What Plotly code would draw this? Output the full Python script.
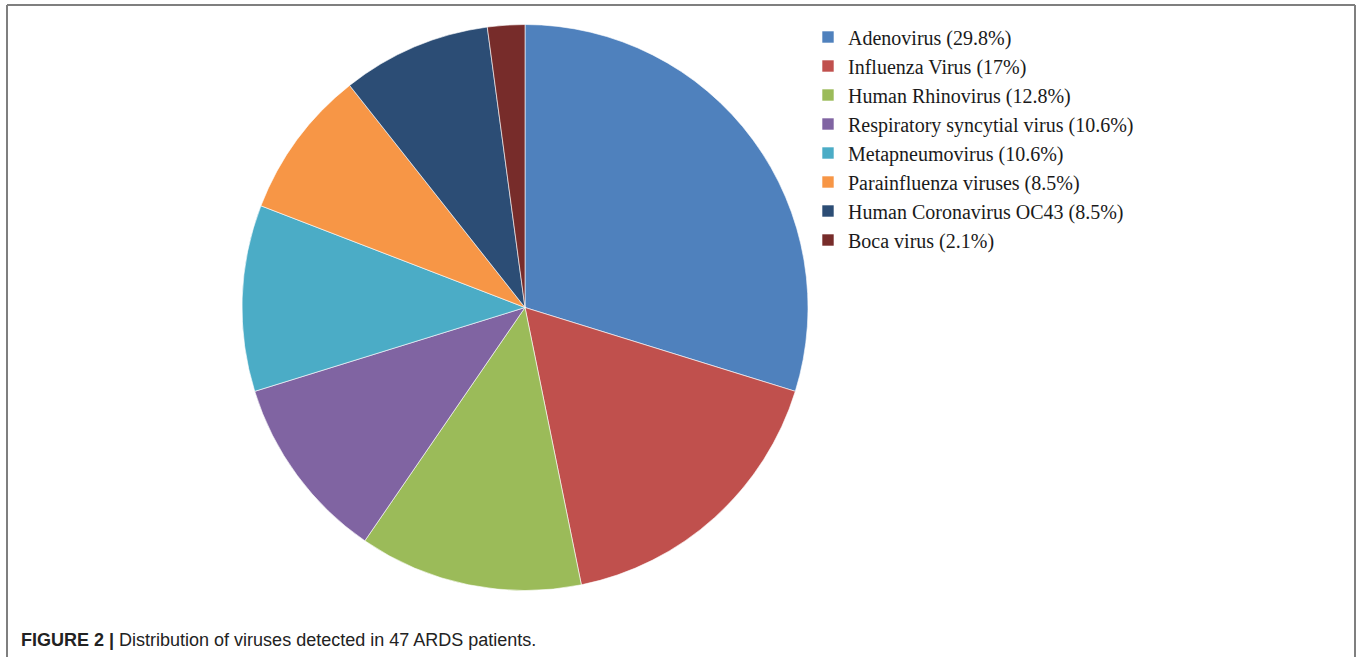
import plotly.graph_objects as go

W, H = 1358, 657

labels = [
    "Adenovirus (29.8%)",
    "Influenza Virus (17%)",
    "Human Rhinovirus (12.8%)",
    "Respiratory syncytial virus (10.6%)",
    "Metapneumovirus (10.6%)",
    "Parainfluenza viruses (8.5%)",
    "Human Coronavirus OC43 (8.5%)",
    "Boca virus (2.1%)",
]
counts = [14, 8, 6, 5, 5, 4, 4, 1]
colors = ["#4F81BD", "#C0504D", "#9BBB59", "#8064A2",
          "#4BACC6", "#F79646", "#2C4D75", "#772C2A"]

cx, cy, r = 525, 307.5, 283

fig = go.Figure(go.Pie(
    labels=labels,
    values=counts,
    sort=False,
    direction="clockwise",
    rotation=0,
    textinfo="none",
    hoverinfo="label+value",
    marker=dict(colors=colors, line=dict(color="rgba(255,255,255,0.6)", width=1)),
    domain=dict(x=[(cx - r) / W, (cx + r) / W],
                y=[(H - cy - r) / H, (H - cy + r) / H]),
))

fig.update_layout(
    width=W, height=H,
    margin=dict(l=0, r=0, t=0, b=0),
    paper_bgcolor="white",
    showlegend=True,
    legend=dict(
        x=808 / W, y=(H - 17.5) / H, xanchor="left", yanchor="top",
        font=dict(family="Liberation Serif, Times New Roman, serif", size=20, color="#1a1a1a"),
        bgcolor="rgba(0,0,0,0)",
        traceorder="normal",
    ),
    shapes=[
        dict(type="line", xref="paper", yref="paper",
             x0=7 / W, x1=7 / W, y0=-0.1, y1=(H - 5) / H,
             line=dict(color="#7f7f7f", width=2)),
        dict(type="line", xref="paper", yref="paper",
             x0=7 / W, x1=1355 / W, y0=(H - 5) / H, y1=(H - 5) / H,
             line=dict(color="#7f7f7f", width=2)),
        dict(type="line", xref="paper", yref="paper",
             x0=1355 / W, x1=1355 / W, y0=-0.1, y1=(H - 5) / H,
             line=dict(color="#7f7f7f", width=2)),
    ],
    annotations=[
        dict(text="<b>FIGURE 2 |</b> Distribution of viruses detected in 47 ARDS patients.",
             xref="paper", yref="paper", x=19 / W, y=(H - 640) / H,
             xanchor="left", yanchor="middle", showarrow=False,
             font=dict(family="Liberation Sans, Arial, sans-serif", size=18, color="#222222")),
    ],
)

fig.write_html("out.html")
